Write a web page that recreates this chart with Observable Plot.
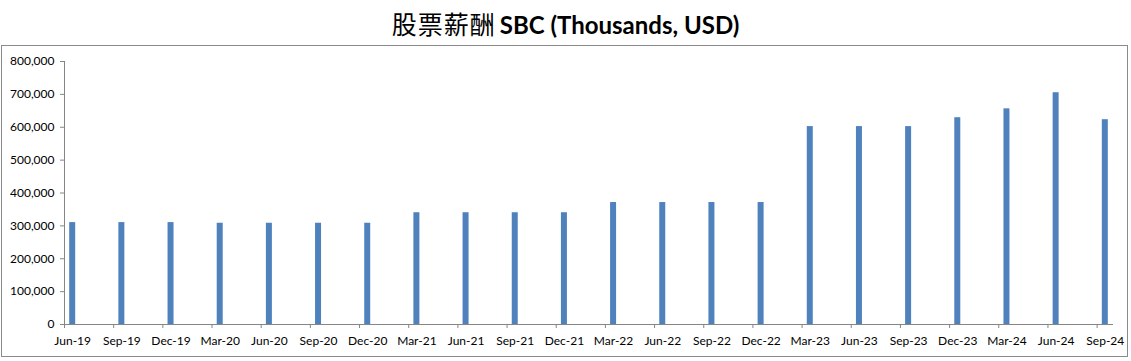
<!DOCTYPE html>
<html>
<head>
<meta charset="utf-8">
<script src="https://cdn.jsdelivr.net/npm/d3@7"></script>
<script src="https://cdn.jsdelivr.net/npm/@observablehq/plot@0.6"></script>
<style>
  html, body { margin: 0; padding: 0; background: #fff; }
  #wrap { position: relative; width: 1131px; height: 361px; overflow: hidden; }
  #title { position: absolute; left: 0; top: 0; width: 1131px; height: 45px; line-height: 46px; text-align: center; white-space: nowrap; color: #000; }
  #title .zh { font-family: "Noto Sans CJK SC", sans-serif; font-size: 25px; font-weight: 400; letter-spacing: 1px; }
  #title .en { font-family: Lato, "Open Sans", sans-serif; font-size: 24px; font-weight: 700; }
  #box { position: absolute; left: 1px; top: 45px; width: 1127px; height: 312px; border: 1px solid #8a8a8a; box-sizing: border-box; }
  #chart { position: absolute; left: 0; top: 45px; }
</style>
</head>
<body>
<div id="wrap">
  <div id="title"><span class="zh">股票薪酬</span> <span class="en">SBC (Thousands, USD)</span></div>
  <div id="box"></div>
  <div id="chart"></div>
</div>
<script>
const categories = ["Jun-19","Sep-19","Dec-19","Mar-20","Jun-20","Sep-20","Dec-20","Mar-21","Jun-21","Sep-21","Dec-21","Mar-22","Jun-22","Sep-22","Dec-22","Mar-23","Jun-23","Sep-23","Dec-23","Mar-24","Jun-24","Sep-24"];
const values = [310000,310000,310000,308000,308000,308000,308000,340000,340000,340000,340000,371000,371000,371000,371000,602000,602000,602000,629000,656000,705000,623000];
const yTicks = [0,100000,200000,300000,400000,500000,600000,700000,800000];

// each quarter-end sits in a monthly slot on a date axis (3 months apart)
const data = categories.map((c, i) => ({cat: c, m: i * 3, v: values[i]}));
const nMonths = categories.length * 3 - 2; // Jun-19 .. Sep-24 inclusive = 64 months
const boundaryTicks = categories.map((c, i) => i * 3);
const labelTicks = categories.map((c, i) => i * 3 + 0.5);

const axisColor = "#868686";

const chart = Plot.plot({
  width: 1131,
  height: 316,
  marginLeft: 64,
  marginRight: 18,
  marginTop: 16,
  marginBottom: 37,
  style: {fontFamily: "Lato, 'Open Sans', sans-serif", fontSize: "12px", color: "#000", background: "transparent", overflow: "visible"},
  x: {type: "linear", domain: [0, nMonths], axis: null, label: null},
  y: {domain: [0, 800000], axis: null, label: null},
  marks: [
    Plot.rectY(data, {x1: "m", x2: d => d.m + 1, y1: 0, y2: "v", fill: "#4f81bd", insetLeft: 5.2, insetRight: 5.2}),
    Plot.ruleX([0], {y1: 0, y2: 800000, stroke: axisColor}),
    Plot.ruleY([0], {x1: 0, x2: nMonths, stroke: axisColor}),
    Plot.axisY({ticks: yTicks, tickSize: 4, tickPadding: 6, stroke: axisColor, tickFormat: d3.format(","), fill: "#000", label: null}),
    Plot.axisX({ticks: boundaryTicks, tickSize: 4, tickFormat: () => "", stroke: axisColor, label: null}),
    Plot.axisX({ticks: labelTicks, tickSize: 0, tickPadding: 12, tickFormat: d => categories[Math.round(d - 0.5) / 3], fill: "#000", label: null})
  ]
});
document.getElementById("chart").appendChild(chart);
</script>
</body>
</html>
